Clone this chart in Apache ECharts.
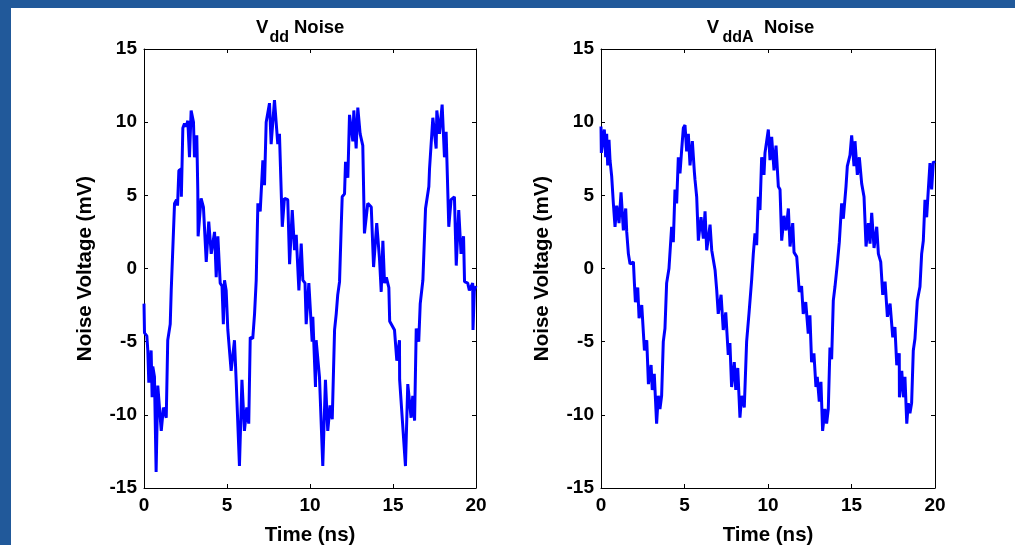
<!DOCTYPE html>
<html>
<head>
<meta charset="utf-8">
<script src="https://cdn.jsdelivr.net/npm/echarts@6/dist/echarts.min.js"></script>
<style>
html,body{margin:0;padding:0;background:#fff;}
#chart{width:1015px;height:545px;}
</style>
</head>
<body>
<div id="chart"></div>
<script>
// ---- Data ----
var xTicks = [0, 5, 10, 15, 20];
var yTicks = [-15, -10, -5, 0, 5, 10, 15];

var vddTime = [0, 0.03, 0.17, 0.23, 0.29, 0.43, 0.49, 0.53, 0.63, 0.73, 0.83, 0.93, 1.04, 1.17, 1.34, 1.43, 1.58, 1.64,
  1.84, 1.96, 2.02, 2.10, 2.24, 2.25, 2.34, 2.44, 2.54, 2.64, 2.74, 2.84, 2.98, 3.04, 3.18, 3.24, 3.26, 3.44, 3.58, 3.75,
  3.90, 4.05, 4.25, 4.35, 4.45, 4.59, 4.70, 4.78, 4.85, 4.95, 5.05, 5.25, 5.45, 5.55, 5.75, 5.90, 6.05, 6.19, 6.31, 6.40,
  6.55, 6.66, 6.76, 6.86, 7.00, 7.16, 7.26, 7.36, 7.56, 7.66, 7.86, 8.06, 8.16, 8.33, 8.46, 8.66, 8.77, 8.93, 9.07, 9.17,
  9.33, 9.47, 9.57, 9.70, 9.77, 9.93, 10.13, 10.17, 10.33, 10.37, 10.57, 10.77, 10.93, 11.07, 11.21, 11.34, 11.48, 11.58,
  11.67, 11.78, 11.88, 11.94, 12.08, 12.14, 12.28, 12.38, 12.58, 12.64, 12.78, 12.88, 13.02, 13.18, 13.28, 13.48, 13.69,
  13.83, 14.02, 14.19, 14.29, 14.39, 14.49, 14.60, 14.75, 14.80, 15.09, 15.23, 15.39, 15.40, 15.75, 15.89, 16.09, 16.19,
  16.30, 16.40, 16.55, 16.64, 16.80, 16.96, 17.16, 17.20, 17.40, 17.60, 17.64, 17.80, 17.96, 18.10, 18.20, 18.36, 18.50,
  18.70, 18.81, 18.96, 19.10, 19.25, 19.31, 19.50, 19.60, 19.80, 19.82, 19.90, 20.00];
var vddNoise = [-2.4, -4.4, -4.6, -5.6, -7.8, -5.6, -8.8, -6.7, -7.4, -13.9, -8.0, -8.1, -11.1, -9.5, -10.2, -4.9, -3.8, -1.5,
  4.45, 4.7, 4.3, 6.7, 6.8, 4.9, 9.6, 9.9, 9.7, 10.1, 7.6, 10.8, 10.0, 7.6, 9.1, 5.4, 2.2, 4.8, 4.2, 0.45,
  3.2, 1.0, 2.5, -0.6, 2.2, -1.0, -1.2, -3.8, -0.8, -1.5, -4.2, -7.0, -4.9, -7.6, -13.5, -7.6, -11.1, -9.5, -10.6, -4.7,
  -4.8, -3.1, -0.8, 4.45, 3.9, 7.4, 5.7, 10.0, 11.3, 8.5, 11.5, 8.5, 9.2, 2.85, 4.8, 4.7, 0.3, 4.0, 1.25, 2.3,
  -1.5, 1.7, -0.8, -1.0, -3.8, -1.0, -5.0, -3.3, -8.1, -4.9, -7.4, -13.5, -7.6, -11.1, -9.35, -10.3, -4.2, -3.1,
  -1.8, -0.9, 2.85, 4.9, 5.1, 7.3, 6.2, 10.5, 8.7, 10.8, 8.2, 11.0, 9.2, 8.4, 2.4, 4.45, 4.2,
  0.1, 3.1, 0.6, -1.6, 1.9, -1.0, -0.6, -1.3, -3.6, -4.2, -6.3, -4.9, -7.6, -13.5, -7.9, -10.2, -8.7,
  -10.4, -4.1, -5.0, -2.4, -0.8, 4.1, 5.6, 6.8, 10.3, 8.2, 10.8, 9.2, 11.2, 7.6, 9.35, 2.85, 4.7,
  4.9, 0.2, 4.0, 1.0, 2.2, -0.9, -1.0, -1.5, -1.0, -4.2, -1.5, -1.2];

var vddaTime = [0, 0.02, 0.20, 0.28, 0.34, 0.40, 0.48, 0.54, 0.64, 0.74, 0.84, 0.94, 1.08, 1.20, 1.34, 1.48, 1.54, 1.64,
  1.74, 1.94, 2.00, 2.06, 2.20, 2.28, 2.44, 2.60, 2.74, 2.84, 3.00, 3.07, 3.19, 3.33, 3.43, 3.53, 3.63, 3.73, 3.83, 3.93,
  4.07, 4.23, 4.33, 4.43, 4.53, 4.63, 4.73, 4.83, 4.93, 5.03, 5.13, 5.23, 5.33, 5.47, 5.59, 5.63, 5.73, 5.83, 5.99, 6.13,
  6.23, 6.33, 6.53, 6.63, 6.83, 6.93, 7.02, 7.19, 7.32, 7.47, 7.62, 7.72, 7.82, 7.98, 8.07, 8.19, 8.32, 8.42, 8.58, 8.72,
  8.86, 9.02, 9.12, 9.22, 9.32, 9.42, 9.52, 9.62, 9.76, 9.82, 10.02, 10.12, 10.22, 10.36, 10.48, 10.62, 10.72, 10.82,
  10.96, 11.08, 11.22, 11.32, 11.48, 11.56, 11.72, 11.81, 11.87, 12.01, 12.11, 12.26, 12.41, 12.51, 12.61, 12.75, 12.87,
  12.95, 13.07, 13.17, 13.27, 13.41, 13.51, 13.61, 13.71, 13.81, 13.91, 14.01, 14.15, 14.27, 14.41, 14.51, 14.67, 14.75,
  14.91, 15.01, 15.15, 15.21, 15.35, 15.47, 15.61, 15.75, 15.87, 16.01, 16.11, 16.21, 16.35, 16.51, 16.61, 16.75, 16.87,
  17.01, 17.15, 17.31, 17.47, 17.60, 17.71, 17.86, 17.87, 18.01, 18.11, 18.20, 18.31, 18.40, 18.50, 18.60, 18.70, 18.80,
  18.94, 19.10, 19.20, 19.30, 19.40, 19.50, 19.60, 19.70, 19.80, 19.90, 20.00];
var vddaNoise = [9.7, 7.9, 9.5, 7.6, 9.2, 7.05, 8.8, 7.4, 6.3, 4.45, 2.85, 4.3, 3.1, 5.2, 2.6, 4.1, 2.5, 1.0,
  0.3, 0.45, -1.0, -2.3, -1.3, -3.4, -2.5, -5.6, -4.9, -7.9, -6.6, -8.3, -7.2, -10.6, -8.7, -9.6, -8.7, -5.0, -4.1, -1.0,
  0.0, 2.85, 1.8, 5.4, 4.45, 7.6, 6.5, 8.1, 9.6, 9.8, 8.0, 9.2, 7.05, 8.7, 6.6, 6.05, 4.9, 1.9, 3.5, 2.05,
  3.9, 1.25, 3.0, 1.25, -0.1, -1.5, -3.1, -1.8, -4.2, -3.0, -5.9, -5.1, -8.1, -6.4, -8.3, -6.8, -10.2, -8.7, -9.5, -5.0,
  -3.1, -0.8, 1.0, 2.4, 1.6, 4.9, 4.0, 7.6, 6.4, 7.9, 9.5, 7.4, 9.0, 6.7, 8.4, 5.6, 5.4, 1.9,
  3.6, 2.6, 4.1, 1.5, 3.1, 1.1, 0.8, -0.6, -1.6, -1.2, -3.1, -2.3, -4.45, -3.2, -6.4, -5.8, -8.1,
  -7.4, -9.1, -7.75, -11.1, -9.6, -10.6, -9.6, -5.4, -6.2, -2.2, -1.25, 0.3, 1.8, 4.45, 3.4, 5.6, 7.0,
  7.75, 9.1, 7.0, 8.7, 6.4, 7.6, 5.8, 4.9, 1.5, 3.1, 1.7, 3.8, 1.4, 2.85, 1.0, 0.45, -1.8,
  -0.9, -3.3, -2.4, -4.7, -4.0, -6.6, -5.8, -8.8, -7.0, -8.8, -7.4, -10.6, -9.2, -9.9, -9.2, -5.6, -4.8,
  -2.2, -1.25, 1.0, 1.9, 4.7, 3.5, 5.4, 7.2, 5.4, 7.3, 7.2];

var titles = [{main: 'V', sub: 'dd', rest: 'Noise'}, {main: 'V', sub: 'ddA', rest: 'Noise'}];
var xName = 'Time (ns)';
var yName = 'Noise Voltage (mV)';

// ---- Chart ----
function zip(a, b) { return a.map(function (t, i) { return [t, b[i]]; }); }

var FONT = '"Liberation Sans", Arial, Helvetica, sans-serif';
var grids = [
  {left: 144, top: 49, width: 332, height: 439, outerBoundsMode: 'none', containLabel: false},
  {left: 601, top: 49, width: 334, height: 439, outerBoundsMode: 'none', containLabel: false}
];

var xAxes = [], yAxes = [];
grids.forEach(function (g, i) {
  var lineStyle = {color: '#000', width: 1};
  xAxes.push({
    type: 'value', gridIndex: i, position: 'bottom',
    min: xTicks[0], max: xTicks[xTicks.length - 1], interval: xTicks[1] - xTicks[0],
    axisLine: {show: true, onZero: false, lineStyle: lineStyle},
    axisTick: {show: true, inside: true, length: 4, lineStyle: lineStyle},
    splitLine: {show: false},
    axisLabel: {color: '#000', fontSize: 19, fontWeight: 'bold', fontFamily: FONT, margin: 8},
    name: xName, nameLocation: 'middle', nameGap: 37,
    nameTextStyle: {color: '#000', fontSize: 20.5, fontWeight: 'bold', fontFamily: FONT}
  });
  xAxes.push({
    type: 'value', gridIndex: i, position: 'top',
    min: xTicks[0], max: xTicks[xTicks.length - 1], interval: xTicks[1] - xTicks[0],
    axisLine: {show: true, onZero: false, lineStyle: lineStyle},
    axisTick: {show: true, inside: true, length: 4, lineStyle: lineStyle},
    splitLine: {show: false}, axisLabel: {show: false}
  });
  yAxes.push({
    type: 'value', gridIndex: i, position: 'left',
    min: yTicks[0], max: yTicks[yTicks.length - 1], interval: yTicks[1] - yTicks[0],
    axisLine: {show: true, onZero: false, lineStyle: lineStyle},
    axisTick: {show: true, inside: true, length: 4, lineStyle: lineStyle},
    splitLine: {show: false},
    axisLabel: {color: '#000', fontSize: 19, fontWeight: 'bold', fontFamily: FONT, margin: 7},
    name: yName, nameLocation: 'middle', nameGap: 48,
    nameTextStyle: {color: '#000', fontSize: 20.5, fontWeight: 'bold', fontFamily: FONT}
  });
  yAxes.push({
    type: 'value', gridIndex: i, position: 'right',
    min: yTicks[0], max: yTicks[yTicks.length - 1], interval: yTicks[1] - yTicks[0],
    axisLine: {show: true, onZero: false, lineStyle: lineStyle},
    axisTick: {show: true, inside: true, length: 4, lineStyle: lineStyle},
    splitLine: {show: false}, axisLabel: {show: false}
  });
});

var titleX = [[256, 269.5, 294], [706.7, 722.5, 764]];
var graphics = [
  {type: 'rect', shape: {x: 0, y: 0, width: 11, height: 545}, style: {fill: '#21599A'}, silent: true},
  {type: 'rect', shape: {x: 0, y: 0, width: 1015, height: 8}, style: {fill: '#21599A'}, silent: true}
];
titles.forEach(function (t, i) {
  var xs = titleX[i];
  graphics.push({type: 'text', style: {text: t.main, x: xs[0], y: 28, font: 'bold 18.5px ' + FONT, fill: '#000', textVerticalAlign: 'middle'}});
  graphics.push({type: 'text', style: {text: t.sub, x: xs[1], y: 38, font: 'bold 16px ' + FONT, fill: '#000', textVerticalAlign: 'middle'}});
  graphics.push({type: 'text', style: {text: t.rest, x: xs[2], y: 28, font: 'bold 18.5px ' + FONT, fill: '#000', textVerticalAlign: 'middle'}});
});

var chart = echarts.init(document.getElementById('chart'), null, {renderer: 'canvas'});
chart.setOption({
  animation: false,
  backgroundColor: '#fff',
  grid: grids,
  xAxis: xAxes,
  yAxis: yAxes,
  graphic: graphics,
  series: [
    {type: 'line', xAxisIndex: 0, yAxisIndex: 0, data: zip(vddTime, vddNoise), showSymbol: false, symbol: 'none',
     lineStyle: {color: '#0000FF', width: 3}, clip: true},
    {type: 'line', xAxisIndex: 2, yAxisIndex: 2, data: zip(vddaTime, vddaNoise), showSymbol: false, symbol: 'none',
     lineStyle: {color: '#0000FF', width: 3}, clip: true}
  ]
});
</script>
</body>
</html>
